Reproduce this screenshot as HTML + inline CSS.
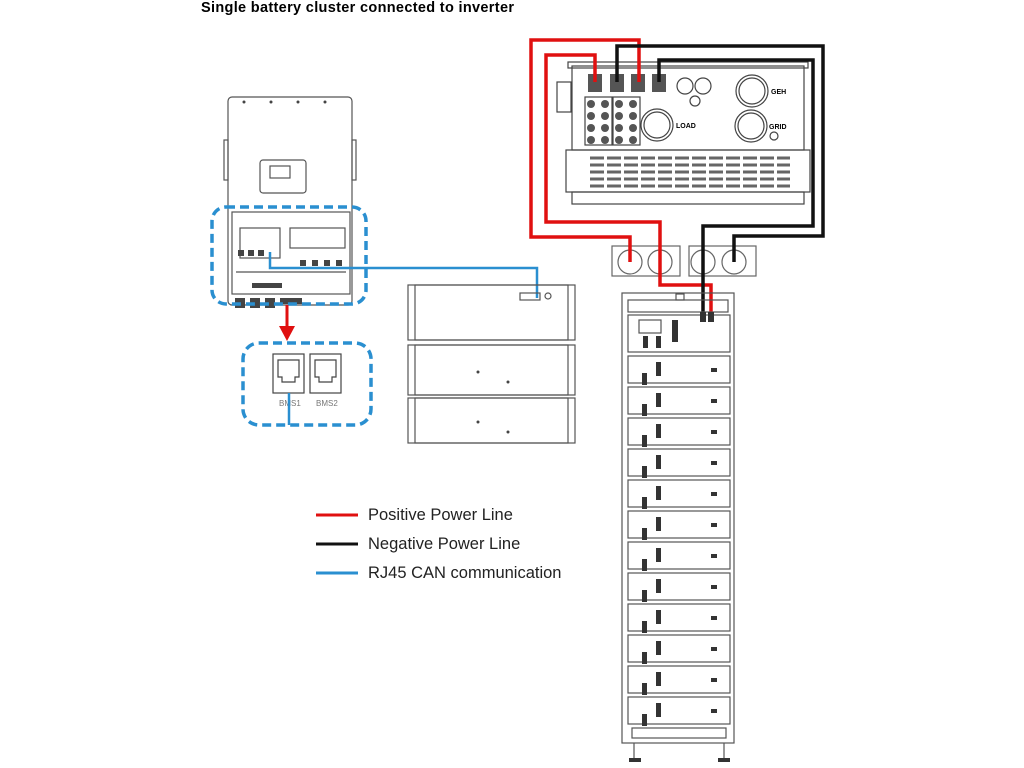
<!DOCTYPE html>
<html><head><meta charset="utf-8"><style>
body{margin:0;background:#fff;width:1024px;height:768px;overflow:hidden}
svg{display:block}
text{font-family:"Liberation Sans",sans-serif}
</style></head><body>
<svg width="1024" height="768" viewBox="0 0 1024 768" xmlns="http://www.w3.org/2000/svg">
<text x="201" y="12" font-size="14.5" font-weight="bold" fill="#000" textLength="313">Single battery cluster connected to inverter</text>

<!-- top inverter -->
<g fill="none" stroke="#444" stroke-width="1.2">
<rect x="572" y="66" width="232" height="84"/>
<rect x="568" y="62" width="240" height="6"/>
<rect x="566" y="150" width="244" height="42"/>
<rect x="572" y="192" width="232" height="12"/>
<rect x="557" y="82" width="14" height="30"/>
<circle cx="685" cy="86" r="8"/><circle cx="703" cy="86" r="8"/><circle cx="695" cy="101" r="5"/>
<circle cx="752" cy="91" r="16"/><circle cx="752" cy="91" r="13"/>
<circle cx="751" cy="126" r="16"/><circle cx="751" cy="126" r="13"/>
<circle cx="657" cy="125" r="16"/><circle cx="657" cy="125" r="13"/>
<circle cx="774" cy="136" r="4"/>
<rect x="585" y="97" width="27" height="48"/><rect x="613" y="97" width="27" height="48"/>
</g>
<g fill="#555">
<circle cx="591" cy="104" r="4"/><circle cx="605" cy="104" r="4"/><circle cx="591" cy="116" r="4"/><circle cx="605" cy="116" r="4"/>
<circle cx="591" cy="128" r="4"/><circle cx="605" cy="128" r="4"/><circle cx="591" cy="140" r="4"/><circle cx="605" cy="140" r="4"/>
<circle cx="619" cy="104" r="4"/><circle cx="633" cy="104" r="4"/><circle cx="619" cy="116" r="4"/><circle cx="633" cy="116" r="4"/>
<circle cx="619" cy="128" r="4"/><circle cx="633" cy="128" r="4"/><circle cx="619" cy="140" r="4"/><circle cx="633" cy="140" r="4"/>
<rect x="588" y="74" width="14" height="18"/><rect x="610" y="74" width="14" height="18"/><rect x="631" y="74" width="14" height="18"/><rect x="652" y="74" width="14" height="18"/>
</g>
<g stroke="#666" stroke-width="3" stroke-dasharray="14 3">
<line x1="590" y1="158" x2="790" y2="158"/><line x1="590" y1="165" x2="790" y2="165"/>
<line x1="590" y1="172" x2="790" y2="172"/><line x1="590" y1="179" x2="790" y2="179"/><line x1="590" y1="186" x2="790" y2="186"/>
</g>
<text x="676" y="128" font-size="7" font-weight="bold">LOAD</text>
<text x="771" y="94" font-size="7" font-weight="bold">GEH</text>
<text x="769" y="129" font-size="7" font-weight="bold">GRID</text>

<!-- junction boxes -->
<g fill="none" stroke="#666" stroke-width="1.2">
<rect x="612" y="246" width="68" height="30"/><rect x="689" y="246" width="67" height="30"/>
<circle cx="630" cy="262" r="12"/><circle cx="660" cy="262" r="12"/><circle cx="703" cy="262" r="12"/><circle cx="734" cy="262" r="12"/>
</g>

<!-- wires -->
<g fill="none" stroke-width="3.5">
<polyline stroke="#e01010" points="639,82 639,40 531,40 531,237 630,237 630,262"/>
<polyline stroke="#e01010" points="595,82 595,55 546,55 546,222 660,222 660,262"/>
<polyline stroke="#e01010" points="660,262 660,285 711,285 711,318"/>
<polyline stroke="#111" points="617,82 617,46 823,46 823,236 734,236 734,262"/>
<polyline stroke="#111" points="659,82 659,60 813,60 813,226 703,226 703,318"/>
</g>

<!-- left inverter -->
<g fill="none" stroke="#555" stroke-width="1.2">
<rect x="228" y="97" width="124" height="208" rx="4"/>
<rect x="260" y="160" width="46" height="33" rx="3"/>
<rect x="232" y="212" width="118" height="82"/>
<rect x="270" y="166" width="20" height="12"/>
<rect x="290" y="228" width="55" height="20"/>
<rect x="240" y="228" width="40" height="30"/>
<line x1="236" y1="272" x2="346" y2="272"/>
<rect x="224" y="140" width="4" height="40"/><rect x="352" y="140" width="4" height="40"/>
</g>
<g fill="#444">
<circle cx="244" cy="102" r="1.5"/><circle cx="271" cy="102" r="1.5"/><circle cx="298" cy="102" r="1.5"/><circle cx="325" cy="102" r="1.5"/>
<rect x="252" y="283" width="30" height="5"/><rect x="235" y="298" width="10" height="10"/><rect x="250" y="298" width="10" height="10"/><rect x="265" y="298" width="10" height="10"/><rect x="280" y="298" width="22" height="6"/>
<rect x="238" y="250" width="6" height="6"/><rect x="248" y="250" width="6" height="6"/><rect x="258" y="250" width="6" height="6"/>
<rect x="300" y="260" width="6" height="6"/><rect x="312" y="260" width="6" height="6"/><rect x="324" y="260" width="6" height="6"/><rect x="336" y="260" width="6" height="6"/>
</g>
<rect x="212" y="207" width="154" height="97" rx="14" fill="none" stroke="#2a8fd0" stroke-width="3.5" stroke-dasharray="9 5"/>
<line x1="287" y1="305" x2="287" y2="328" stroke="#e01010" stroke-width="3"/>
<polygon points="279,326 295,326 287,341" fill="#e01010"/>
<rect x="243" y="343" width="128" height="82" rx="16" fill="none" stroke="#2a8fd0" stroke-width="3.5" stroke-dasharray="9 5"/>
<g fill="none" stroke="#444" stroke-width="1.2">
<rect x="273" y="354" width="31" height="39"/><rect x="310" y="354" width="31" height="39"/>
<path d="M278 360h21v17h-4v5h-13v-5h-4z"/><path d="M315 360h21v17h-4v5h-13v-5h-4z"/>
</g>
<text x="279" y="406" font-size="8" fill="#777" font-family="Liberation Serif">BMS1</text>
<text x="316" y="406" font-size="8" fill="#777" font-family="Liberation Serif">BMS2</text>
<g fill="none" stroke="#2a8fd0" stroke-width="2.5">
<polyline points="289,393 289,425"/>
<polyline points="270,252 270,268 537,268 537,298"/>
</g>

<!-- middle battery boxes -->
<g fill="none" stroke="#555" stroke-width="1.2">
<rect x="408" y="285" width="167" height="55"/><rect x="415" y="285" width="153" height="55"/>
<rect x="408" y="345" width="167" height="50"/><rect x="415" y="345" width="153" height="50"/>
<rect x="408" y="398" width="167" height="45"/><rect x="415" y="398" width="153" height="45"/>
<rect x="520" y="293" width="20" height="7"/><circle cx="548" cy="296" r="3"/>
</g>
<g fill="#444">
<circle cx="478" cy="372" r="1.5"/><circle cx="508" cy="382" r="1.5"/><circle cx="478" cy="422" r="1.5"/><circle cx="508" cy="432" r="1.5"/>
</g>

<!-- battery rack -->
<g fill="none" stroke="#555" stroke-width="1.2">
<rect x="622" y="293" width="112" height="450"/>
<rect x="628" y="300" width="100" height="12"/>
<rect x="676" y="294" width="8" height="6"/>
<rect x="628" y="315" width="102" height="37"/>
<rect x="639" y="320" width="22" height="13"/>
<rect x="628" y="356" width="102" height="27"/><rect x="628" y="387" width="102" height="27"/>
<rect x="628" y="418" width="102" height="27"/><rect x="628" y="449" width="102" height="27"/>
<rect x="628" y="480" width="102" height="27"/><rect x="628" y="511" width="102" height="27"/>
<rect x="628" y="542" width="102" height="27"/><rect x="628" y="573" width="102" height="27"/>
<rect x="628" y="604" width="102" height="27"/><rect x="628" y="635" width="102" height="27"/>
<rect x="628" y="666" width="102" height="27"/><rect x="628" y="697" width="102" height="27"/>
<rect x="632" y="728" width="94" height="10"/>
<line x1="634" y1="743" x2="634" y2="760"/><line x1="724" y1="743" x2="724" y2="760"/>
</g>
<g fill="#333">
<rect x="643" y="336" width="5" height="12"/><rect x="656" y="336" width="5" height="12"/>
<rect x="672" y="320" width="6" height="22"/><rect x="700" y="312" width="6" height="10"/><rect x="708" y="312" width="6" height="10"/>
<rect x="656" y="362" width="5" height="14"/><rect x="642" y="373" width="5" height="12"/><rect x="711" y="368" width="6" height="4"/>
<rect x="656" y="393" width="5" height="14"/><rect x="642" y="404" width="5" height="12"/><rect x="711" y="399" width="6" height="4"/>
<rect x="656" y="424" width="5" height="14"/><rect x="642" y="435" width="5" height="12"/><rect x="711" y="430" width="6" height="4"/>
<rect x="656" y="455" width="5" height="14"/><rect x="642" y="466" width="5" height="12"/><rect x="711" y="461" width="6" height="4"/>
<rect x="656" y="486" width="5" height="14"/><rect x="642" y="497" width="5" height="12"/><rect x="711" y="492" width="6" height="4"/>
<rect x="656" y="517" width="5" height="14"/><rect x="642" y="528" width="5" height="12"/><rect x="711" y="523" width="6" height="4"/>
<rect x="656" y="548" width="5" height="14"/><rect x="642" y="559" width="5" height="12"/><rect x="711" y="554" width="6" height="4"/>
<rect x="656" y="579" width="5" height="14"/><rect x="642" y="590" width="5" height="12"/><rect x="711" y="585" width="6" height="4"/>
<rect x="656" y="610" width="5" height="14"/><rect x="642" y="621" width="5" height="12"/><rect x="711" y="616" width="6" height="4"/>
<rect x="656" y="641" width="5" height="14"/><rect x="642" y="652" width="5" height="12"/><rect x="711" y="647" width="6" height="4"/>
<rect x="656" y="672" width="5" height="14"/><rect x="642" y="683" width="5" height="12"/><rect x="711" y="678" width="6" height="4"/>
<rect x="656" y="703" width="5" height="14"/><rect x="642" y="714" width="5" height="12"/><rect x="711" y="709" width="6" height="4"/>
<rect x="629" y="758" width="12" height="4"/><rect x="718" y="758" width="12" height="4"/>
</g>

<!-- legend -->
<line x1="316" y1="515" x2="358" y2="515" stroke="#e01010" stroke-width="3"/>
<line x1="316" y1="544" x2="358" y2="544" stroke="#111" stroke-width="3"/>
<line x1="316" y1="573" x2="358" y2="573" stroke="#2a8fd0" stroke-width="3"/>
<text x="368" y="520" font-size="16.5" fill="#222">Positive Power Line</text>
<text x="368" y="549" font-size="16.5" fill="#222">Negative Power Line</text>
<text x="368" y="578" font-size="16.5" fill="#222">RJ45 CAN communication</text>
</svg>
</body></html>
